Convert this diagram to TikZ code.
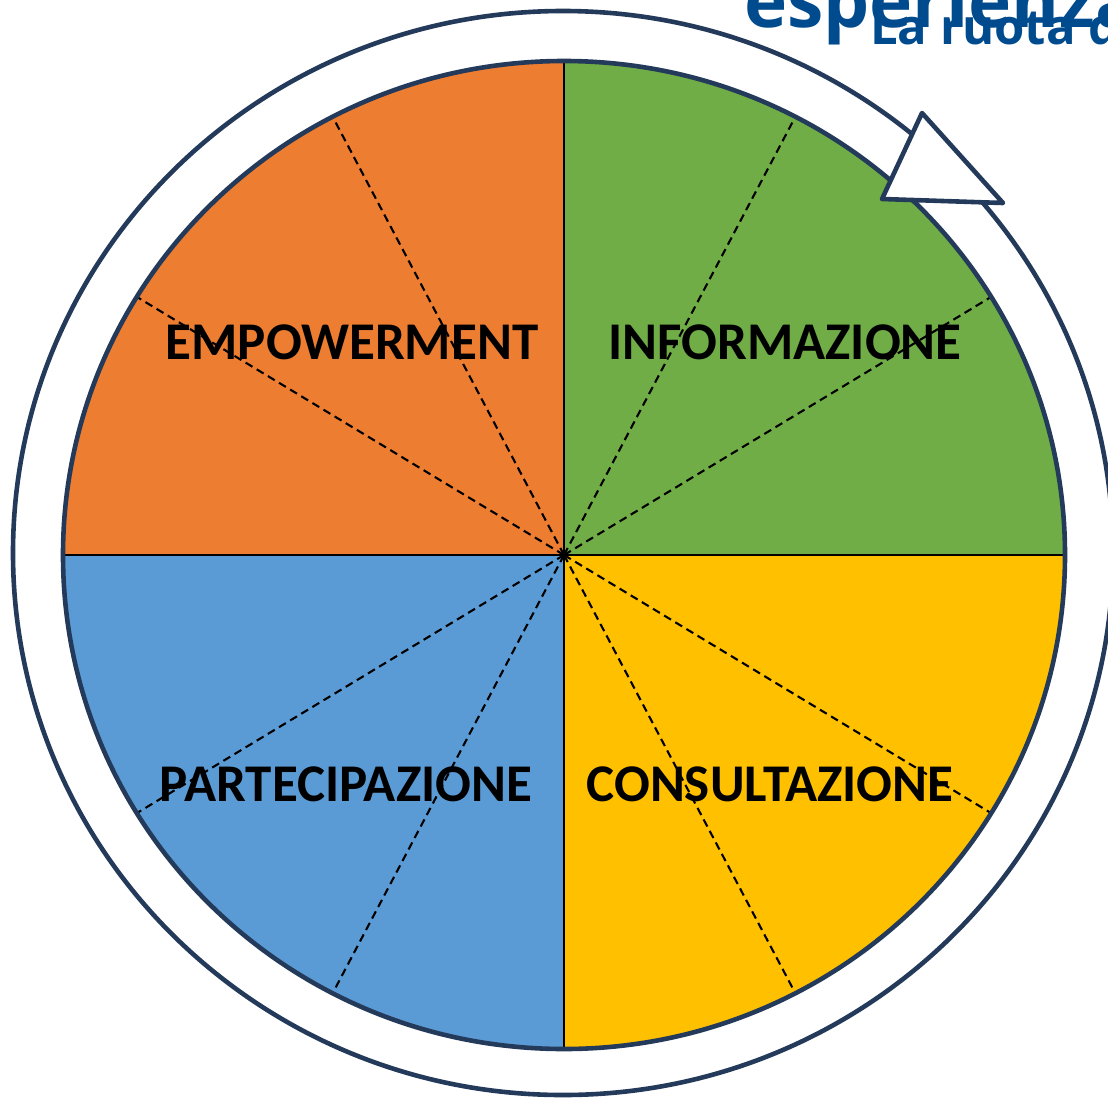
\documentclass[tikz,border=0pt]{standalone}
\usepackage{fontspec}
\newfontfamily\wheelfont{Carlito}
\newfontfamily\headfont{Open Sans}
\definecolor{wOrange}{HTML}{ED7D31}
\definecolor{wGreen}{HTML}{70AD47}
\definecolor{wYellow}{HTML}{FFC000}
\definecolor{wBlue}{HTML}{5B9BD5}
\definecolor{wNavy}{HTML}{243A5A}
\definecolor{wTitle}{HTML}{004A8E}
\tikzset{
  rim/.style    ={draw=wNavy, line width=4.6pt},
  divline/.style={draw=black, line width=1.8pt},
  ray/.style    ={draw=black, line width=2.1pt, dash pattern=on 8pt off 5pt},
  lbl/.style    ={font=\wheelfont\bfseries\fontsize{53}{53}\selectfont, anchor=base, inner sep=0pt},
  head/.style   ={text=wTitle, anchor=base west, inner sep=0pt},
}

\begin{document}
\begin{tikzpicture}[x=1pt,y=-1pt]
\path[use as bounding box, clip] (0,0) rectangle (1108,1098);
\coordinate (c) at (564,555);
\node[head, font=\headfont\bfseries\fontsize{49}{49}\selectfont] (sub) at (870,44) {La ruota d};
\node[head, font=\headfont\bfseries\fontsize{73}{73}\selectfont] (ttl) at (744,27) {esperienza};
\draw[rim] (563,553) ellipse [x radius=550, y radius=542];
\fill[wGreen]  (c) -- ++(501,0) arc [start angle=0, end angle=-90, x radius=501, y radius=494] -- cycle;
\fill[wOrange] (c) -- ++(0,-494) arc [start angle=-90, end angle=-180, x radius=501, y radius=494] -- cycle;
\fill[wBlue]   (c) -- ++(-501,0) arc [start angle=180, end angle=90, x radius=501, y radius=494] -- cycle;
\fill[wYellow] (c) -- ++(0,494) arc [start angle=90, end angle=0, x radius=501, y radius=494] -- cycle;
\foreach \a [count=\i] in {31.5,62.5,117.5,148.5,211.5,242.5,297.5,328.5}{
  \coordinate (r\i) at ({564+501*cos(\a)},{555-494*sin(\a)});
  \draw[ray] (c) -- (r\i);
}
\coordinate (nt) at (564,61);  \coordinate (nb) at (564,1049);
\coordinate (nl) at (63,555);  \coordinate (nr) at (1065,555);
\draw[divline] (nt) -- (nb);
\draw[divline] (nl) -- (nr);
\draw[rim] (c) ellipse [x radius=501, y radius=494];
\draw[rim, fill=white, line join=round] (922,113) -- (882,199) -- (1003,203) -- cycle;
\node[lbl] (emp) at (352,359) {EMPOWERMENT};
\node[lbl] (inf) at (785,359) {INFORMAZIONE};
\node[lbl] (par) at (346,801) {PARTECIPAZIONE};
\node[lbl] (con) at (770,801) {CONSULTAZIONE};
\end{tikzpicture}
\end{document}
